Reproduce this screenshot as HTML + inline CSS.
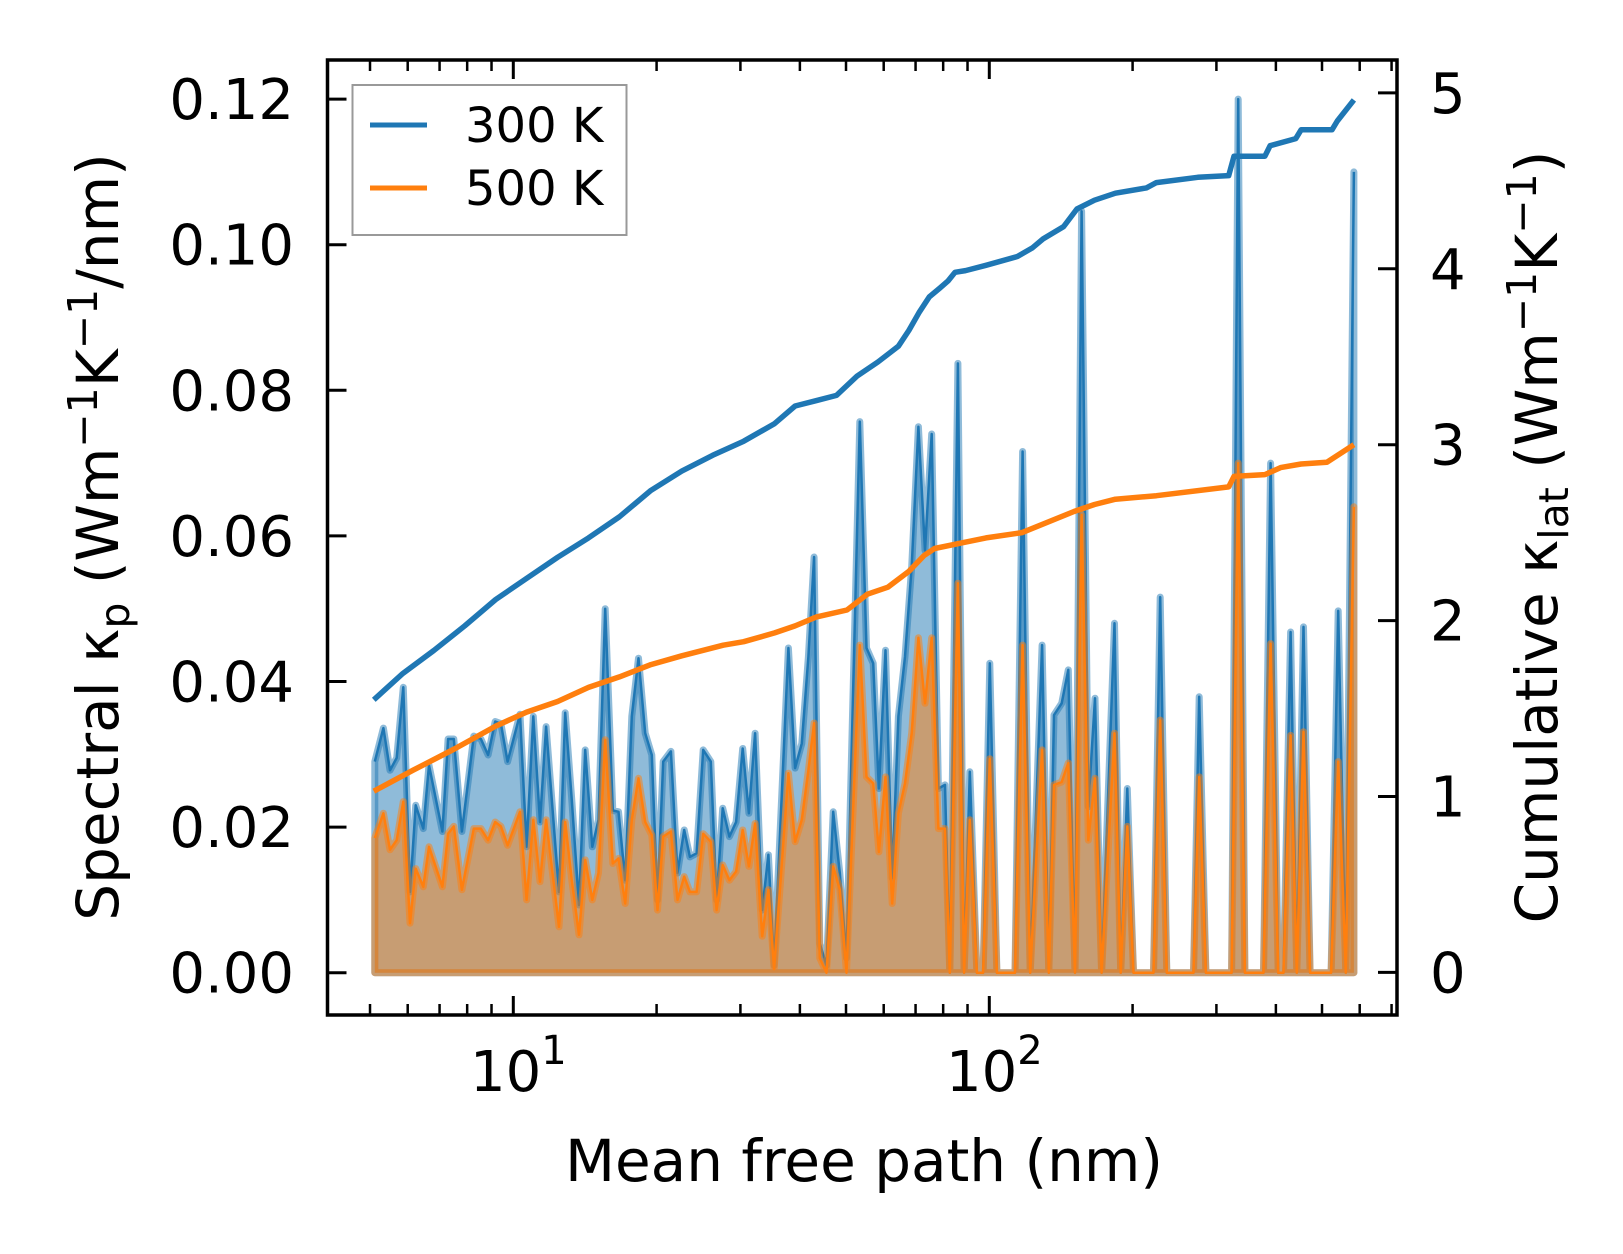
<!DOCTYPE html>
<html><head><meta charset="utf-8"><style>
html,body{margin:0;padding:0;background:#fff;}
svg{display:block;font-family:"DejaVu Sans","Liberation Sans",sans-serif;}
</style></head><body>
<svg id="chart" width="1623" height="1254" viewBox="0 0 1623 1254" xmlns="http://www.w3.org/2000/svg">
<rect x="0" y="0" width="1623" height="1254" fill="#fff"/>
<g id="plot"></g>
<g id="axes"></g>
<text x="864" y="1181" font-size="58" text-anchor="middle">Mean free path (nm)</text>
<text transform="translate(118,537) rotate(-90)" font-size="58" text-anchor="middle">Spectral κ<tspan font-size="41" dy="11">p</tspan><tspan dy="-11"> (Wm</tspan><tspan font-size="41" dy="-21">−1</tspan><tspan dy="21">K</tspan><tspan font-size="41" dy="-21">−1</tspan><tspan dy="21">/nm)</tspan></text>
<text transform="translate(1557,537) rotate(-90)" font-size="58" text-anchor="middle">Cumulative κ<tspan font-size="41" dy="11">lat</tspan><tspan dy="-11"> (Wm</tspan><tspan font-size="41" dy="-21">−1</tspan><tspan dy="21">K</tspan><tspan font-size="41" dy="-21">−1</tspan><tspan dy="21">)</tspan></text>
<g>
<rect x="352.5" y="85" width="274" height="150" fill="#fff" fill-opacity="0.8" stroke="#999" stroke-width="2"/>
<line x1="370" y1="125" x2="427" y2="125" stroke="#1f77b4" stroke-width="5"/>
<text x="465" y="142" font-size="48">300 K</text>
<line x1="370" y1="188" x2="427" y2="188" stroke="#ff7f0e" stroke-width="5"/>
<text x="465" y="205" font-size="48">500 K</text>
</g>
</svg>
<script>
// log10 of mean free path (nm)
const mfpLog = [0.709,0.727,0.741,0.755,0.769,0.783,0.795,0.811,0.823,0.851,0.863,0.875,0.892,0.917,0.932,0.947,0.962,0.974,0.988,1.014,1.028,1.042,1.056,1.069,1.096,1.109,1.123,1.138,1.151,1.166,1.179,1.193,1.209,1.221,1.235,1.249,1.263,1.277,1.291,1.303,1.315,1.331,1.345,1.359,1.371,1.385,1.399,1.415,1.427,1.440,1.454,1.468,1.482,1.495,1.508,1.523,1.536,1.548,1.578,1.592,1.606,1.620,1.632,1.644,1.658,1.672,1.686,1.700,1.728,1.742,1.756,1.768,1.782,1.796,1.809,1.823,1.837,1.851,1.865,1.879,1.893,1.907,1.917,1.934,1.947,1.959,1.974,1.987,2.001,2.016,2.054,2.070,2.086,2.111,2.125,2.136,2.152,2.166,2.180,2.194,2.208,2.222,2.236,2.263,2.276,2.290,2.303,2.345,2.359,2.373,2.429,2.441,2.455,2.509,2.523,2.537,2.576,2.591,2.607,2.618,2.633,2.646,2.660,2.674,2.718,2.733,2.749,2.766];
// spectral kappa, units of 1e-3 W m^-1 K^-1 / nm
const spec300 = [29.0,33.6,27.8,29.5,39.2,11.1,23.0,19.8,28.5,19.4,32.1,32.1,19.4,32.5,32.1,29.9,34.5,34.2,29.0,35.5,17.3,35.2,20.7,33.8,11.1,35.7,23.7,9.3,30.6,17.3,21.0,50.0,22.3,22.1,12.7,35.2,43.2,32.9,29.9,10.0,29.0,30.4,13.7,19.6,15.9,16.4,30.6,29.0,10.0,22.6,18.7,20.7,30.8,21.9,32.9,8.6,16.2,1.0,44.6,28.1,31.5,43.4,57.1,4.0,1.0,22.1,13.7,2.0,75.7,44.6,42.5,25.3,44.3,13.0,35.2,43.4,55.8,75.0,58.0,74.0,25.3,25.8,0,83.7,0,27.6,0,0,42.5,0,0,71.6,0,45.0,0,35.4,37.0,41.6,0,104.6,22.8,37.7,0,48.0,0,25.3,0,0,51.6,0,0,37.9,0,0,120.0,0,0,70.0,0,0,46.8,0,47.5,0,0,49.7,0,110.0];
const spec500 = [18.5,21.9,16.9,18.2,23.5,6.8,14.3,11.8,17.3,11.8,19.1,20.1,11.4,19.8,19.8,18.2,20.7,20.1,17.5,22.1,10.0,21.0,12.5,21.0,6.3,20.7,12.7,5.2,15.5,10.0,13.7,32.0,15.0,15.7,9.5,21.0,26.7,20.7,18.9,8.6,18.7,19.4,10.0,13.2,11.1,11.1,19.1,18.0,8.6,14.8,12.7,13.9,19.6,14.6,20.5,5.0,11.4,0.5,27.4,18.0,21.0,27.8,34.3,2.0,0,14.6,11.4,0,45.0,26.9,26.0,16.6,26.9,9.5,21.9,26.0,32.9,46.0,37.0,46.0,19.8,19.8,0,53.5,0,21.0,0,0,29.4,0,0,45.0,0,30.6,0,25.8,26.2,28.8,0,62.9,18.2,26.7,0,32.9,0,20.1,0,0,34.7,0,0,26.9,0,0,70.0,0,0,45.2,0,0,32.6,0,33.1,0,0,29.0,0,64.0];
// cumulative kappa_lat
const cumLog300 = [0.707,0.768,0.833,0.898,0.963,1.028,1.093,1.158,1.223,1.289,1.354,1.419,1.484,1.549,1.592,1.636,1.679,1.722,1.766,1.809,1.831,1.852,1.874,1.896,1.913,1.928,1.950,1.993,2.059,2.091,2.113,2.156,2.184,2.221,2.265,2.330,2.351,2.438,2.503,2.514,2.579,2.590,2.644,2.655,2.720,2.731,2.766];
const cum300 = [1.55,1.70,1.83,1.97,2.12,2.24,2.36,2.47,2.59,2.74,2.85,2.94,3.02,3.12,3.22,3.25,3.28,3.39,3.47,3.56,3.65,3.75,3.84,3.89,3.93,3.98,3.99,4.02,4.07,4.12,4.17,4.24,4.34,4.39,4.43,4.46,4.49,4.52,4.53,4.64,4.64,4.70,4.74,4.79,4.79,4.84,4.96];
const cumLog500 = [0.707,0.790,0.876,0.963,1.028,1.093,1.158,1.223,1.289,1.354,1.441,1.484,1.549,1.592,1.636,1.701,1.744,1.787,1.831,1.863,1.885,1.939,1.993,2.069,2.178,2.221,2.265,2.351,2.503,2.514,2.579,2.612,2.655,2.709,2.766];
const cum500 = [1.03,1.15,1.27,1.40,1.48,1.54,1.62,1.68,1.75,1.80,1.86,1.88,1.93,1.97,2.02,2.06,2.15,2.19,2.28,2.37,2.41,2.44,2.47,2.50,2.62,2.66,2.69,2.71,2.76,2.82,2.83,2.87,2.89,2.90,3.00];
const leftTicks = [0,0.02,0.04,0.06,0.08,0.10,0.12];
const leftTickLabels = ["0.00","0.02","0.04","0.06","0.08","0.10","0.12"];
const rightTicks = [0,1,2,3,4,5];
const xMajor = [1,2];

const NS="http://www.w3.org/2000/svg";
const L=327.5,R=1397,T=60,B=1015;
function X(lg){return 513.3+(lg-1)*476;}
function YL(v){return 972.7-v*7.28;}
function YLa(v){return YL(v*1000);}
function YR(k){return 972.4-k*175.9;}
function mk(tag,attrs,parent){const e=document.createElementNS(NS,tag);for(const k in attrs)e.setAttribute(k,attrs[k]);parent.appendChild(e);return e;}
const plot=document.getElementById('plot');
const axes=document.getElementById('axes');

function series(vals,color,name){
  const pts=mfpLog.map((l,i)=>X(l).toFixed(1)+','+YL(vals[i]).toFixed(1));
  const poly=[X(mfpLog[0]).toFixed(1)+','+YL(0)].concat(pts,[X(mfpLog[mfpLog.length-1]).toFixed(1)+','+YL(0)]);
  const f=mk('polygon',{points:poly.join(' '),fill:color,'fill-opacity':0.5,stroke:color,'stroke-opacity':0.5,'stroke-width':7,'stroke-linejoin':'round'},plot);
  
  
  const l=mk('polyline',{points:pts.join(' '),fill:'none',stroke:color,'stroke-width':2.5,'stroke-linejoin':'round'},plot);
  
  
}
series(spec300,'#1f77b4','spectral-300k');
series(spec500,'#ff7f0e','spectral-500k');
function cum(lgs,vals,color,name){
  const pts=lgs.map((l,i)=>X(l).toFixed(1)+','+YR(vals[i]).toFixed(1));
  const c=mk('polyline',{points:pts.join(' '),fill:'none',stroke:color,'stroke-width':5.5,'stroke-linejoin':'round'},plot);
  
  
}
cum(cumLog300,cum300,'#1f77b4','cumulative-300k');
cum(cumLog500,cum500,'#ff7f0e','cumulative-500k');

const fr=mk('rect',{x:L,y:T,width:R-L,height:B-T,fill:'none',stroke:'#000','stroke-width':3.5},axes);


leftTicks.forEach((v,i)=>{
  const y=YLa(v);
  const t=mk('line',{x1:L,x2:L+19,y1:y,y2:y,stroke:'#000','stroke-width':3},axes);
  
  
  const tx=mk('text',{x:294,y:y+20,'font-size':56,'text-anchor':'end'},axes);
  tx.textContent=leftTickLabels[i];
  
  
});
rightTicks.forEach(v=>{
  const y=YR(v);
  const t=mk('line',{x1:R-19,x2:R,y1:y,y2:y,stroke:'#000','stroke-width':3},axes);
  
  
  const tx=mk('text',{x:1430,y:y+20,'font-size':56},axes);
  tx.textContent=String(v);
  
  
});
xMajor.forEach(p=>{
  const x=X(p);
  [[B,B-19],[T,T+19]].forEach(([a,b])=>{
    const t=mk('line',{x1:x,x2:x,y1:a,y2:b,stroke:'#000','stroke-width':3},axes);
    
    
  });
  const tx=mk('text',{x:x+5,y:1091,'font-size':56,'text-anchor':'middle'},axes);
  
  
  tx.appendChild(document.createTextNode('10'));
  const sp=mk('tspan',{'font-size':40,dy:-27},tx);
  sp.textContent=String(p);
});
for(let d=0;d<=2;d++){
  for(let m=2;m<=9;m++){
    const lg=d+Math.log10(m);
    const x=X(lg);
    if(x<=L+2||x>=R-2)continue;
    [[B,B-11],[T,T+11]].forEach(([a,b])=>{
      const t=mk('line',{x1:x,x2:x,y1:a,y2:b,stroke:'#000','stroke-width':2.5},axes);
      
      
    });
  }
}
</script>
</body></html>
